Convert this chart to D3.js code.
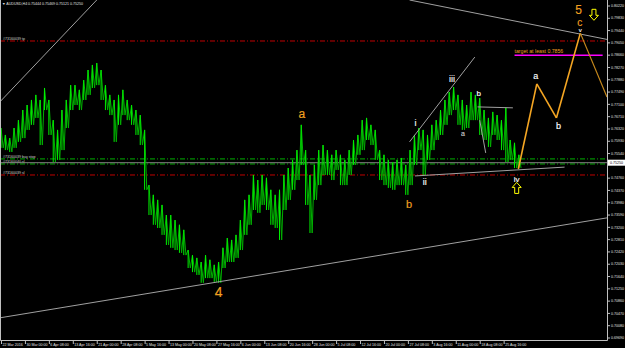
<!DOCTYPE html>
<html>
<head>
<meta charset="utf-8">
<script src="https://cdn.jsdelivr.net/npm/d3@7"></script>
<style>
html, body { margin: 0; padding: 0; background: #000; }
svg { display: block; font-family: "Liberation Sans", Arial, sans-serif; }
</style>
</head>
<body>
<svg id="chart" width="625" height="348"></svg>
<script>
// H4 bars, one slot every 8 bars (high / low of the slot)
const barStep = 8;
const priceHigh = [
  0.7635, 0.7613, 0.7603, 0.7635, 0.7660, 0.7692, 0.7708, 0.7724, 0.7740, 0.7724,
  0.7762, 0.7724, 0.7660, 0.7629, 0.7692, 0.7724, 0.7771, 0.7771, 0.7756, 0.7787,
  0.7819, 0.7835, 0.7841, 0.7819, 0.7771, 0.7740, 0.7724, 0.7740, 0.7756, 0.7724,
  0.7708, 0.7692, 0.7676, 0.7629, 0.7454, 0.7423, 0.7407, 0.7391, 0.7359, 0.7359,
  0.7343, 0.7328, 0.7312, 0.7248, 0.7232, 0.7223, 0.7210, 0.7232, 0.7217, 0.7201,
  0.7210, 0.7255, 0.7286, 0.7280, 0.7296, 0.7343, 0.7407, 0.7423, 0.7486, 0.7470,
  0.7486, 0.7477, 0.7439, 0.7423, 0.7439, 0.7486, 0.7508, 0.7534, 0.7565, 0.7645,
  0.7565, 0.7486, 0.7518, 0.7565, 0.7581, 0.7565, 0.7550, 0.7565, 0.7550, 0.7534,
  0.7565, 0.7597, 0.7613, 0.7660, 0.7667, 0.7645, 0.7629, 0.7565, 0.7550, 0.7534,
  0.7527, 0.7534, 0.7540, 0.7518, 0.7565, 0.7613, 0.7635, 0.7629, 0.7613, 0.7645,
  0.7660, 0.7692, 0.7724, 0.7749, 0.7765, 0.7740, 0.7724, 0.7708, 0.7749, 0.7740,
  0.7730, 0.7692, 0.7667, 0.7686, 0.7676, 0.7660, 0.7699, 0.7597, 0.7588, 0.7550
];
const priceLow = [
  0.7572, 0.7565, 0.7559, 0.7572, 0.7591, 0.7603, 0.7629, 0.7645, 0.7667, 0.7581,
  0.7692, 0.7613, 0.7527, 0.7534, 0.7565, 0.7635, 0.7692, 0.7708, 0.7692, 0.7724,
  0.7740, 0.7762, 0.7771, 0.7724, 0.7692, 0.7676, 0.7591, 0.7645, 0.7676, 0.7660,
  0.7645, 0.7613, 0.7581, 0.7439, 0.7359, 0.7328, 0.7318, 0.7296, 0.7264, 0.7255,
  0.7248, 0.7239, 0.7232, 0.7191, 0.7178, 0.7169, 0.7144, 0.7159, 0.7159, 0.7147,
  0.7144, 0.7191, 0.7210, 0.7210, 0.7223, 0.7248, 0.7296, 0.7328, 0.7375, 0.7366,
  0.7391, 0.7375, 0.7328, 0.7318, 0.7280, 0.7375, 0.7407, 0.7439, 0.7470, 0.7518,
  0.7391, 0.7302, 0.7407, 0.7454, 0.7486, 0.7486, 0.7470, 0.7502, 0.7454, 0.7454,
  0.7486, 0.7518, 0.7550, 0.7565, 0.7597, 0.7581, 0.7534, 0.7470, 0.7454, 0.7445,
  0.7439, 0.7454, 0.7454, 0.7423, 0.7454, 0.7518, 0.7565, 0.7486, 0.7534, 0.7565,
  0.7597, 0.7613, 0.7645, 0.7676, 0.7692, 0.7645, 0.7629, 0.7635, 0.7660, 0.7660,
  0.7613, 0.7597, 0.7575, 0.7613, 0.7597, 0.7565, 0.7527, 0.7534, 0.7508, 0.7508
];

const timeLabels = ["22 Mar 2016", "30 Mar 00:00", "6 Apr 08:00", "13 Apr 16:00", "21 Apr 00:00",
  "28 Apr 08:00", "5 May 16:00", "13 May 00:00", "20 May 08:00", "27 May 16:00", "6 Jun 00:00",
  "13 Jun 08:00", "20 Jun 16:00", "28 Jun 00:00", "5 Jul 08:00", "12 Jul 16:00", "20 Jul 00:00",
  "27 Jul 08:00", "3 Aug 16:00", "11 Aug 00:00", "18 Aug 08:00", "25 Aug 16:00"];
const timeBars = [0, 44, 88, 132, 176, 220, 264, 308, 352, 396, 440, 484, 528, 572, 616, 660,
  704, 748, 792, 836, 880, 924];

const priceTicks = [0.8022, 0.7983, 0.7944, 0.7905, 0.7866, 0.7827, 0.7788, 0.7749, 0.7710,
  0.7671, 0.7632, 0.7593, 0.7554, 0.7476, 0.7437, 0.7398, 0.7359, 0.7320, 0.7281, 0.7242,
  0.7203, 0.7164, 0.7125, 0.7086, 0.7047, 0.7008, 0.6969];
const bidPrice = 0.7525;

// projected wave path (bar, price)
const projBars = [951, 985, 1021, 1065, 1114];
const projPrices = [0.7505, 0.7775, 0.7667, 0.7936, 0.7733];

// hand drawn trend lines [bar1, price1, bar2, price2]
const trendLines = [
  [-2, 0.7718, 176, 0.8041],
  [751, 0.8041, 1114, 0.7916],
  [-2, 0.7033, 1114, 0.7350],
  [751, 0.7591, 871, 0.7860],
  [761, 0.7483, 1036, 0.7511],
  [876, 0.7702, 941, 0.7699],
  [880, 0.7660, 891, 0.7556]
];

// order lines
const orderLines = [
  {price: 0.7911, text: "#73160039 tp", color: "#c00000"},
  {price: 0.7537, text: "#73160039 buy stop", color: "#00b000"},
  {price: 0.7521, text: "#73160040 sl", color: "#00b000"},
  {price: 0.7486, text: "#73160039 sl", color: "#c00000"}
];

const waveLabels = [
  {bar: 1062, price: 0.7997, text: "5", color: "#f0a020", size: 12},
  {bar: 1064, price: 0.7960, text: "c", color: "#f0a020", size: 10},
  {bar: 1065, price: 0.7941, text: "v", color: "#ffffff", size: 6},
  {bar: 983, price: 0.7791, text: "a", color: "#ffffff", size: 9},
  {bar: 1025, price: 0.7633, text: "b", color: "#ffffff", size: 9},
  {bar: 553, price: 0.7667, text: "a", color: "#f0a020", size: 12},
  {bar: 400, price: 0.7100, text: "4", color: "#f0a020", size: 14},
  {bar: 750, price: 0.7381, text: "b", color: "#f0a020", size: 11},
  {bar: 829, price: 0.7781, text: "iii", color: "#ffffff", size: 9},
  {bar: 762, price: 0.7641, text: "i", color: "#ffffff", size: 9},
  {bar: 779, price: 0.7455, text: "ii", color: "#ffffff", size: 9},
  {bar: 878, price: 0.7737, text: "b", color: "#ffffff", size: 8},
  {bar: 849, price: 0.7610, text: "a", color: "#c8c8c8", size: 7},
  {bar: 948, price: 0.7464, text: "iv", color: "#ffffff", size: 8}
];
const arrowsUp = [{bar: 948, price: 0.7445}];
const arrowsDown = [{bar: 1090, price: 0.7994}];
const target = {bar1: 944, bar2: 1106, price: 0.7866, text: "target at least 0.7856"};

const W = 625, H = 348, plotR = 607, plotB = 341;
const x = d3.scaleLinear().domain([0, 1114]).range([1, plotR]);
const y = d3.scaleLinear().domain([0.6969, 0.8022]).range([338, 6]);

const svg = d3.select("#chart");
svg.append("rect").attr("width", W).attr("height", H).attr("fill", "#000");

svg.append("clipPath").attr("id", "plot").append("rect")
  .attr("x", 0).attr("y", 0).attr("width", plotR).attr("height", plotB);

const g = svg.append("g").attr("clip-path", "url(#plot)");

// order lines
g.selectAll(".order").data(orderLines).join("line")
  .attr("x1", 0).attr("x2", plotR)
  .attr("y1", d => y(d.price)).attr("y2", d => y(d.price))
  .attr("stroke", d => d.color).attr("stroke-width", 1)
  .attr("stroke-dasharray", "5,2,1,2");
g.selectAll(".ordertxt").data(orderLines).join("text")
  .attr("x", 3).attr("y", d => y(d.price) - 1)
  .attr("fill", "#d0d0d0").attr("font-size", 3.6)
  .text(d => d.text);

// bid line
g.append("line").attr("x1", 0).attr("x2", plotR)
  .attr("y1", y(bidPrice)).attr("y2", y(bidPrice))
  .attr("stroke", "#808080").attr("stroke-width", 1);

// price bars: zigzag through high/low plus vertical bar per slot
const pts = [];
priceHigh.forEach((h, i) => {
  pts.push([i * barStep, h], [i * barStep + barStep / 2, priceLow[i]]);
});
g.append("path")
  .attr("d", d3.line().x(d => x(d[0])).y(d => y(d[1]))(pts))
  .attr("fill", "none").attr("stroke", "#00b000").attr("stroke-width", 1);
g.selectAll(".bar").data(priceHigh).join("line")
  .attr("x1", (d, i) => x(i * barStep)).attr("x2", (d, i) => x(i * barStep))
  .attr("y1", d => y(d)).attr("y2", (d, i) => y(priceLow[i]))
  .attr("stroke", "#00f000").attr("stroke-width", 1);

// trend lines
g.selectAll(".trend").data(trendLines).join("line")
  .attr("x1", d => x(d[0])).attr("y1", d => y(d[1]))
  .attr("x2", d => x(d[2])).attr("y2", d => y(d[3]))
  .attr("stroke", "#a0a0a0").attr("stroke-width", 1);

// target line
g.append("line")
  .attr("x1", x(target.bar1)).attr("x2", x(target.bar2))
  .attr("y1", y(target.price)).attr("y2", y(target.price))
  .attr("stroke", "#ff00ff").attr("stroke-width", 1.5);
g.append("text")
  .attr("x", x(target.bar1)).attr("y", y(target.price) - 2)
  .attr("fill", "#f0a020").attr("font-size", 5.2)
  .text(target.text);

// projection
const proj = projBars.map((b, i) => [b, projPrices[i]]);
for (let i = 0; i < proj.length - 1; i++) {
  g.append("line")
    .attr("x1", x(proj[i][0])).attr("y1", y(proj[i][1]))
    .attr("x2", x(proj[i + 1][0])).attr("y2", y(proj[i + 1][1]))
    .attr("stroke", i === proj.length - 2 ? "#c88a1c" : "#f5a623")
    .attr("stroke-width", i === proj.length - 2 ? 1.2 : 1.6);
}

// wave labels (thin stroke keeps small glyphs from colour fringing)
g.selectAll(".wave").data(waveLabels).join("text")
  .attr("x", d => x(d.bar)).attr("y", d => y(d.price))
  .attr("text-anchor", "middle")
  .attr("fill", d => d.color).attr("font-size", d => d.size)
  .attr("stroke", d => d.color).attr("stroke-width", 0.15)
  .text(d => d.text);

// arrows (outlined)
const arrowUp = "M0,-5.5 L4.5,-0.5 L2,-0.5 L2,5.5 L-2,5.5 L-2,-0.5 L-4.5,-0.5 Z";
const arrowDown = "M0,5.5 L4.5,0.5 L2,0.5 L2,-5.5 L-2,-5.5 L-2,0.5 L-4.5,0.5 Z";
g.selectAll(".aup").data(arrowsUp).join("path")
  .attr("d", arrowUp)
  .attr("transform", d => `translate(${x(d.bar)},${y(d.price)})`)
  .attr("fill", "none").attr("stroke", "#ffff00").attr("stroke-width", 1);
g.selectAll(".adown").data(arrowsDown).join("path")
  .attr("d", arrowDown)
  .attr("transform", d => `translate(${x(d.bar)},${y(d.price)})`)
  .attr("fill", "none").attr("stroke", "#ffff00").attr("stroke-width", 1);

// title
svg.append("text").attr("x", 2).attr("y", 5)
  .attr("fill", "#e0e0e0").attr("font-size", 3.6)
  .text("\u25BC AUDUSD,H4  0.75444 0.75469 0.75121 0.75250");

// frame
svg.append("path")
  .attr("d", `M0.5,0 V${plotB - 0.5} H${plotR + 0.5} V0`)
  .attr("fill", "none").attr("stroke", "#c0c0c0").attr("stroke-width", 1);

// price axis
const pa = svg.append("g");
pa.selectAll("line").data(priceTicks).join("line")
  .attr("x1", plotR).attr("x2", plotR + 3)
  .attr("y1", d => y(d)).attr("y2", d => y(d))
  .attr("stroke", "#c0c0c0");
pa.selectAll("text").data(priceTicks).join("text")
  .attr("x", plotR + 4).attr("y", d => y(d) + 1.2)
  .attr("fill", "#e0e0e0").attr("font-size", 3.6)
  .text(d => d3.format(".5f")(d));
pa.append("rect").attr("x", plotR + 1).attr("y", y(bidPrice) - 3)
  .attr("width", 17).attr("height", 6).attr("fill", "#ffffff");
pa.append("text").attr("x", plotR + 3).attr("y", y(bidPrice) + 1.3)
  .attr("fill", "#000").attr("font-size", 3.6)
  .text(d3.format(".5f")(bidPrice));

// time axis
const ta = svg.append("g");
ta.selectAll("line").data(timeBars).join("line")
  .attr("x1", d => x(d) + 0.5).attr("x2", d => x(d) + 0.5)
  .attr("y1", plotB).attr("y2", plotB + 3)
  .attr("stroke", "#c0c0c0");
ta.selectAll("text").data(timeLabels).join("text")
  .attr("x", (d, i) => x(timeBars[i]) + 1.5).attr("y", plotB + 5)
  .attr("fill", "#e0e0e0").attr("font-size", 3.6)
  .text(d => d);
</script>
</body>
</html>
